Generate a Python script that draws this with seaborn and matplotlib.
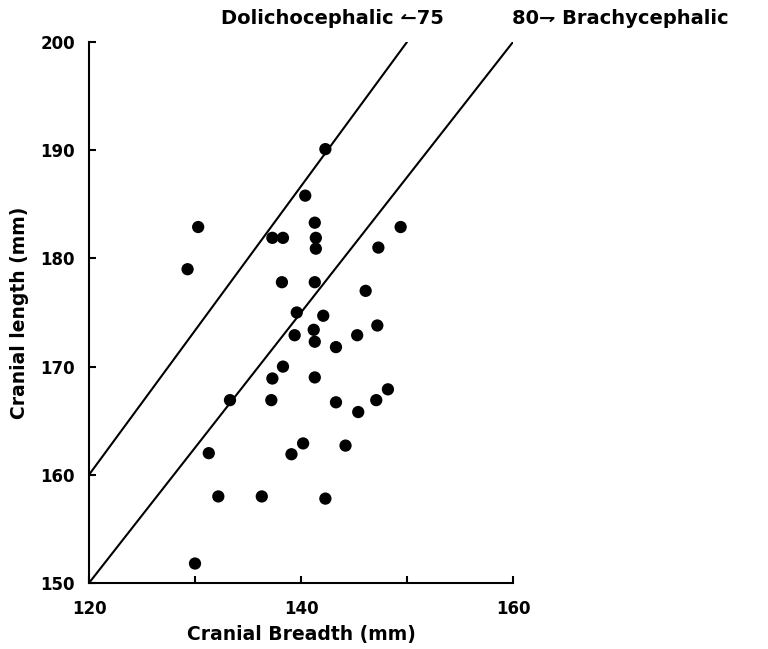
import numpy as np
import pandas as pd
import matplotlib
matplotlib.use("Agg")
import matplotlib.pyplot as plt
import seaborn as sns

# ==========================================
# Data
# ==========================================
breadth = [130.3, 129.3, 137.3, 138.3, 138.2, 142.3, 140.4, 141.3, 141.4, 141.4,
           149.4, 147.3, 141.3, 146.1, 139.6, 142.1, 141.2, 139.4, 147.2, 145.3,
           141.3, 143.3, 138.3, 137.3, 141.3, 148.2, 137.2, 143.3, 147.1, 145.4,
           133.3, 131.3, 132.2, 136.3, 130.0, 139.1, 140.2, 144.2, 142.3]
length = [182.9, 179.0, 181.9, 181.9, 177.8, 190.1, 185.8, 183.3, 181.9, 180.9,
          182.9, 181.0, 177.8, 177.0, 175.0, 174.7, 173.4, 172.9, 173.8, 172.9,
          172.3, 171.8, 170.0, 168.9, 169.0, 167.9, 166.9, 166.7, 166.9, 165.8,
          166.9, 162.0, 158.0, 158.0, 151.8, 161.9, 162.9, 162.7, 157.8]
cephalic_index = [75, 80]   # breadth / length * 100 boundary lines
x_ticks = [120, 130, 140, 150, 160]
x_ticklabels = ["120", "", "140", "", "160"]
y_ticks = [150, 160, 170, 180, 190, 200]

df = pd.DataFrame({"breadth": breadth, "length": length})

sns.set_style("ticks", {"axes.edgecolor": "black", "text.color": "black",
                        "axes.labelcolor": "black", "xtick.color": "black",
                        "ytick.color": "black"})
plt.rcParams['font.family'] = ['DejaVu Sans']

fig = plt.figure(figsize=(7.68, 6.49), dpi=100)
ax = fig.add_axes([89 / 768, 1 - 583 / 649, (513 - 89) / 768, (583 - 42) / 649])

# index lines: length = breadth * 100 / index, cut at the top of the plot
for idx in cephalic_index:
    b_end = min(160, 200 * idx / 100)
    b = np.array([120, b_end])
    ax.plot(b, b * 100 / idx, color="black", lw=1.5, zorder=1)

sns.scatterplot(data=df, x="breadth", y="length", ax=ax, color="black",
                s=78, edgecolor="none", zorder=3, legend=False)

ax.set_xlim(120, 160)
ax.set_ylim(150, 200)
ax.set_xticks(x_ticks)
ax.set_xticklabels(x_ticklabels)
ax.set_yticks(y_ticks)
for s in ["top", "right"]:
    ax.spines[s].set_visible(False)
for s in ["left", "bottom"]:
    ax.spines[s].set_linewidth(1.5)
ax.tick_params(direction="in", length=5, width=1.5, labelsize=12, pad=10)
ax.tick_params(axis="x", pad=12)
for lab in ax.get_xticklabels() + ax.get_yticklabels():
    lab.set_fontweight("bold")

ax.set_xlabel("Cranial Breadth (mm)", fontsize=13.5, fontweight="bold", labelpad=5)
ax.set_ylabel("Cranial length (mm)", fontsize=13.5, fontweight="bold", labelpad=8)

fig.text(444 / 768, 1 - 18 / 649, "Dolichocephalic \u21bc75", ha="right", va="center",
         fontsize=14, fontweight="bold")
fig.text(512 / 768, 1 - 18 / 649, "80\u21c1 Brachycephalic", ha="left", va="center",
         fontsize=14, fontweight="bold")

fig.savefig("out.png", dpi=100)
